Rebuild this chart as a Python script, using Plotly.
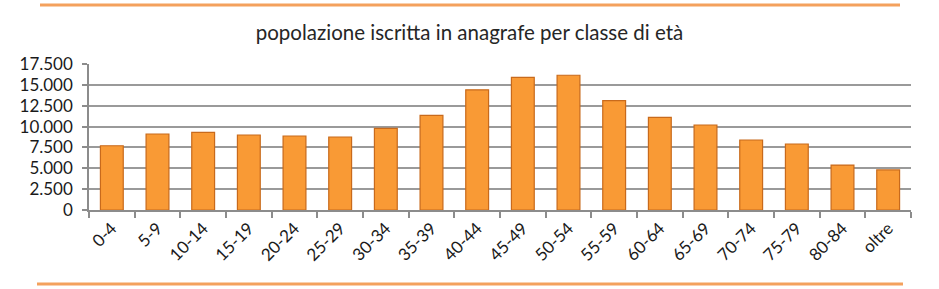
import plotly.graph_objects as go

categories = ["0-4", "5-9", "10-14", "15-19", "20-24", "25-29", "30-34", "35-39", "40-44",
              "45-49", "50-54", "55-59", "60-64", "65-69", "70-74", "75-79", "80-84", "oltre"]
popolazione = [7700, 9110, 9310, 8990, 8870, 8750, 9790, 11350, 14400,
               15900, 16150, 13100, 11110, 10190, 8390, 7910, 5390, 4800]
y_ticks = [0, 2500, 5000, 7500, 10000, 12500, 15000, 17500]
title_text = "popolazione iscritta in anagrafe per classe di età"

W, H = 939, 289
L, R, T, B = 89, 28, 64, 79
pw, ph = W - L - R, H - T - B

def px(x):
    return (x - L) / pw

def py(y):
    return (H - B - y) / ph

fig = go.Figure()
fig.add_trace(go.Bar(
    x=categories, y=popolazione, width=0.5,
    marker=dict(color="#F99A35", line=dict(color="#C86A1C", width=1.2)),
))

fig.update_layout(
    width=W, height=H,
    margin=dict(l=L, r=R, t=T, b=B, pad=0),
    paper_bgcolor="white", plot_bgcolor="white",
    separators=",.",
    showlegend=False,
    bargap=0.5,
    font=dict(family="Lato, Open Sans, sans-serif", color="#262626", size=17),
    title=dict(text=title_text, x=0.5, xref="container", xanchor="center",
               y=1 - 33 / H, yref="container", yanchor="middle",
               font=dict(size=20.5, color="#262626")),
    xaxis=dict(
        type="category", tickangle=-45, tickson="boundaries",
        ticks="outside", ticklen=6, tickcolor="#8C8C8C", tickwidth=1.5,
        showline=True, linecolor="#8C8C8C", linewidth=1.5,
        showgrid=False, tickfont=dict(size=17, color="#1a1a1a"),
    ),
    yaxis=dict(
        range=[0, 17500], tickvals=y_ticks, tickformat=",",
        ticks="outside", ticklen=5, tickcolor="#8C8C8C", tickwidth=1.5,
        showline=True, linecolor="#8C8C8C", linewidth=1.5,
        showgrid=True, gridcolor="#9A9A9A", gridwidth=1.6,
        tickfont=dict(size=17, color="#1a1a1a"), zeroline=False,
        ticklabelstandoff=6,
    ),
    shapes=[
        dict(type="line", xref="paper", yref="paper",
             x0=px(40), x1=px(900), y0=py(5), y1=py(5),
             line=dict(color="#F4A15D", width=3)),
        dict(type="line", xref="paper", yref="paper",
             x0=px(37), x1=px(903), y0=py(284), y1=py(284),
             line=dict(color="#F4A15D", width=3)),
    ],
)

fig.write_html("out.html")
